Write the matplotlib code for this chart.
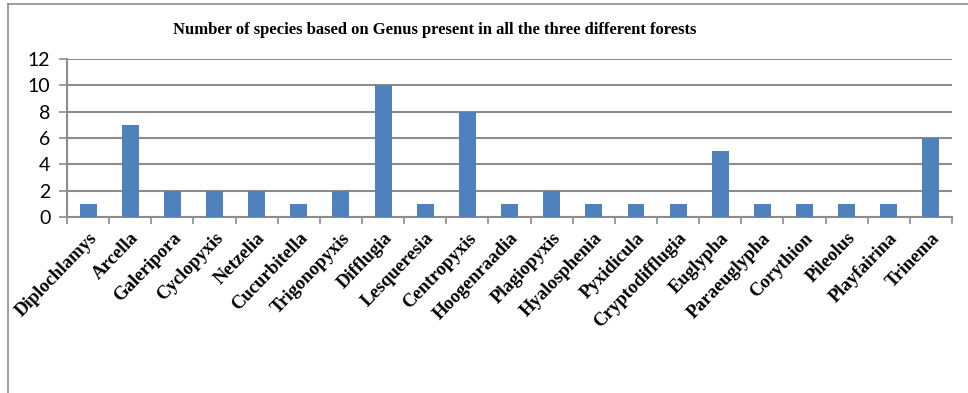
import matplotlib.pyplot as plt
import numpy as np
from matplotlib.lines import Line2D

# Genus counts
genera = ['Diplochlamys', 'Arcella', 'Galeripora', 'Cyclopyxis', 'Netzelia',
          'Cucurbitella', 'Trigonopyxis', 'Difflugia', 'Lesqueresia', 'Centropyxis',
          'Hoogenraadia', 'Plagiopyxis', 'Hyalosphenia', 'Pyxidicula', 'Cryptodifflugia',
          'Euglypha', 'Paraeuglypha', 'Corythion', 'Pileolus', 'Playfairina', 'Trinema']
species = [1, 7, 2, 2, 2, 1, 2, 10, 1, 8, 1, 2, 1, 1, 1, 5, 1, 1, 1, 1, 6]
yticks = [0, 2, 4, 6, 8, 10, 12]

W, H = 968, 393
fig = plt.figure(figsize=(W / 100, H / 100), dpi=100)
ax = fig.add_axes([67 / W, 1 - 217 / H, (952 - 67) / W, (217 - 59) / H])

x = np.arange(len(genera))
ax.bar(x, species, width=0.40, color='#4F81BD', zorder=3)

ax.set_xlim(-0.5, len(genera) - 0.5)
ax.set_ylim(0, 12)
ax.set_yticks(yticks)
ax.set_yticklabels([str(v) for v in yticks], fontsize=14, family='Lato')
ax.yaxis.grid(True, color='#8c8c8c', linewidth=1.5, zorder=0)

# ticks between categories
ax.set_xticks(np.arange(len(genera) + 1) - 0.5)
ax.set_xticklabels([])
ax.set_xticks(x, minor=True)
ax.set_xticklabels(genera, minor=True, rotation=46, ha='right', rotation_mode='anchor',
                   family='Liberation Serif', fontweight='bold', fontsize=13.5)
ax.tick_params(axis='x', which='minor', length=0, pad=9)
ax.tick_params(axis='x', which='major', length=5, color='#8c8c8c', width=1.2)
ax.tick_params(axis='y', length=6, color='#8c8c8c', width=1.2, pad=6)

for s in ['top', 'right']:
    ax.spines[s].set_visible(False)
for s in ['left', 'bottom']:
    ax.spines[s].set_color('#8c8c8c')
    ax.spines[s].set_linewidth(1.5)

fig.text(435 / W, 1 - 30 / H,
         'Number of species based on Genus present in all the three different forests',
         ha='center', va='center', family='Liberation Serif', fontweight='bold', fontsize=12)

# outer frame
fig.add_artist(Line2D([8 / W, 1], [1 - 4 / H] * 2, color='#8c8c8c', linewidth=1.2))
fig.add_artist(Line2D([8 / W] * 2, [0, 1 - 4 / H], color='#8c8c8c', linewidth=1.2))

fig.savefig('out.png', dpi=100)
